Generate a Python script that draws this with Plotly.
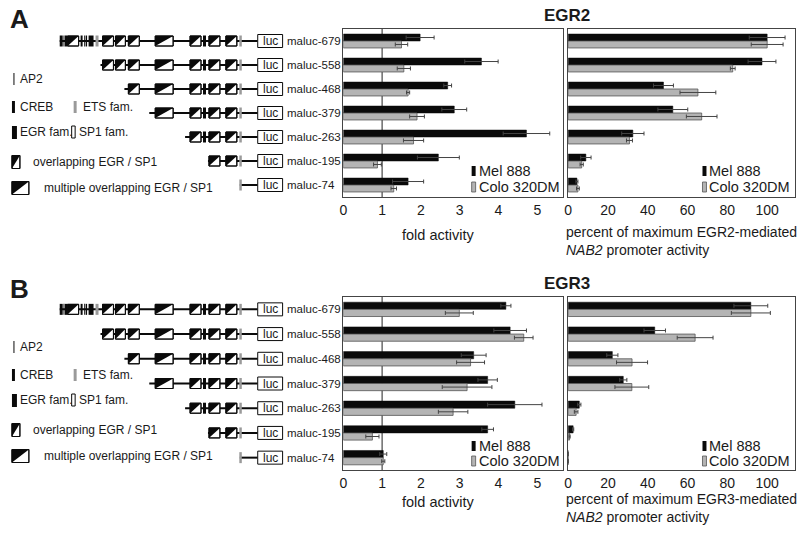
import plotly.graph_objects as go

W, H = 800, 535

constructs = ["maluc-679", "maluc-558", "maluc-468", "maluc-379", "maluc-263", "maluc-195", "maluc-74"]
series_names = ["Mel 888", "Colo 320DM"]

# Panel A (EGR2)
a_fold_mel = [1.98, 3.56, 2.69, 2.86, 4.72, 2.45, 1.67]
a_fold_mel_err = [0.36, 0.43, 0.10, 0.32, 0.60, 0.54, 0.40]
a_fold_colo = [1.50, 1.56, 1.67, 1.90, 1.81, 0.88, 1.30]
a_fold_colo_err = [0.16, 0.17, 0.04, 0.19, 0.26, 0.10, 0.07]
a_pct_mel = [100, 97.4, 47.9, 52.6, 32.5, 8.9, 4.4]
a_pct_mel_err = [9, 7, 5, 7.5, 5.6, 2.6, 0.5]
a_pct_colo = [100, 82.7, 65.2, 67.1, 30.8, 6.8, 4.9]
a_pct_colo_err = [8, 1.2, 9, 7.7, 1.5, 0.8, 0.7]

# Panel B (EGR3)
b_fold_mel = [4.19, 4.30, 3.36, 3.72, 4.42, 3.72, 1.03]
b_fold_mel_err = [0.13, 0.42, 0.32, 0.25, 0.70, 0.15, 0.09]
b_fold_colo = [2.99, 4.65, 3.28, 3.19, 2.83, 0.75, 1.03]
b_fold_colo_err = [0.36, 0.24, 0.36, 0.64, 0.38, 0.17, 0.04]
b_pct_mel = [91.8, 43.5, 22.2, 27.7, 5.6, 2.5, 0]
b_pct_mel_err = [8.5, 5.4, 2.8, 1.8, 0.8, 0.3, 0]
b_pct_colo = [91.8, 63.8, 32.1, 32.0, 4.0, 0.7, 0]
b_pct_colo_err = [9.8, 9, 7.8, 8.5, 0.9, 0.3, 0]

fold_ticks = [0, 1, 2, 3, 4, 5]
pct_ticks = [0, 20, 40, 60, 80, 100]

SANS = "Liberation Sans, Arial, sans-serif"
TXT = "#1a1a1a"
BLACK = "#0a0a0a"
GREY = "#b4b4b4"


def X(px):
    return px / W


def Y(py):
    return 1 - py / H


# pixel geometry of the plot areas
A_top, A_bot = 29, 197
B_top, B_bot = 297, 470
fold_l, fold_r = 341, 562
pct_l, pct_r = 567, 795

fig = go.Figure()

panels = [
    ("x", "y", a_fold_mel, a_fold_mel_err, a_fold_colo, a_fold_colo_err),
    ("x2", "y2", a_pct_mel, a_pct_mel_err, a_pct_colo, a_pct_colo_err),
    ("x3", "y3", b_fold_mel, b_fold_mel_err, b_fold_colo, b_fold_colo_err),
    ("x4", "y4", b_pct_mel, b_pct_mel_err, b_pct_colo, b_pct_colo_err),
]
for xa, ya, m, me, c, ce in panels:
    fig.add_trace(go.Bar(
        x=m, y=constructs, orientation="h", name=series_names[0], xaxis=xa, yaxis=ya,
        marker=dict(color=BLACK, line=dict(color=BLACK, width=0.5)),
        error_x=dict(type="data", array=me, color="#444", thickness=1, width=2),
        showlegend=False))
    fig.add_trace(go.Bar(
        x=c, y=constructs, orientation="h", name=series_names[1], xaxis=xa, yaxis=ya,
        marker=dict(color=GREY, line=dict(color="#555", width=0.8)),
        error_x=dict(type="data", array=ce, color="#444", thickness=1, width=2),
        showlegend=False))

axis_common = dict(showline=True, mirror=True, linecolor="#444", linewidth=1,
                   showgrid=False, zeroline=False, ticks="",
                   tickfont=dict(family=SANS, size=14, color=TXT))
yaxis_common = dict(showline=True, mirror=True, linecolor="#444", linewidth=1,
                    showgrid=False, zeroline=False, ticks="", showticklabels=False,
                    type="category", categoryorder="array", categoryarray=constructs,
                    autorange="reversed")

fold_range = [0, (fold_r - fold_l) / 39.0]
pct_range = [0, (pct_r - pct_l) / 2.0]

fig.update_layout(
    width=W, height=H, margin=dict(l=0, r=0, t=0, b=0),
    paper_bgcolor="white", plot_bgcolor="white",
    barmode="group", bargap=0.42, bargroupgap=0.0,
    xaxis=dict(domain=[X(fold_l), X(fold_r)], range=fold_range, tickvals=fold_ticks, anchor="y", **axis_common),
    yaxis=dict(domain=[Y(A_bot), Y(A_top)], anchor="x", **yaxis_common),
    xaxis2=dict(domain=[X(pct_l), X(pct_r)], range=pct_range, tickvals=pct_ticks, anchor="y2", **axis_common),
    yaxis2=dict(domain=[Y(A_bot), Y(A_top)], anchor="x2", **yaxis_common),
    xaxis3=dict(domain=[X(fold_l), X(fold_r)], range=fold_range, tickvals=fold_ticks, anchor="y3", **axis_common),
    yaxis3=dict(domain=[Y(B_bot), Y(B_top)], anchor="x3", **yaxis_common),
    xaxis4=dict(domain=[X(pct_l), X(pct_r)], range=pct_range, tickvals=pct_ticks, anchor="y4", **axis_common),
    yaxis4=dict(domain=[Y(B_bot), Y(B_top)], anchor="x4", **yaxis_common),
)

shapes = []
ann = []

# reference line at fold activity = 1
for xa, ya in [("x", "y"), ("x3", "y3")]:
    shapes.append(dict(type="line", xref=xa, yref=ya + " domain", x0=1, x1=1, y0=0, y1=1,
                       line=dict(color="#222", width=1), layer="below"))


def prect(x0, x1, y0, y1, fill, lc=None, lw=0):
    shapes.append(dict(type="rect", xref="paper", yref="paper",
                       x0=X(x0), x1=X(x1), y0=Y(y1), y1=Y(y0),
                       fillcolor=fill, line=dict(color=lc or fill, width=lw), layer="above"))


def ppath(pts, fill):
    d = "M " + " L ".join(f"{X(a):.5f},{Y(b):.5f}" for a, b in pts) + " Z"
    shapes.append(dict(type="path", xref="paper", yref="paper", path=d,
                       fillcolor=fill, line=dict(color=fill, width=0), layer="above"))


def pline(x0, x1, y, w=2):
    shapes.append(dict(type="line", xref="paper", yref="paper", x0=X(x0), x1=X(x1),
                       y0=Y(y), y1=Y(y), line=dict(color=BLACK, width=w), layer="above"))


def text(x, y, s, size=14, anchor="left", font=SANS, color=TXT, bold=False, shift=None):
    if shift is None:
        shift = -3 if anchor == "left" else 0
    ann.append(dict(x=X(x), y=Y(y), xref="paper", yref="paper", xshift=shift,
                    text=(f"<b>{s}</b>" if bold else s), showarrow=False,
                    xanchor=anchor, yanchor="middle", font=dict(family=font, size=size, color=color)))


def ov_box(x0, x1, yc, h):
    y0, y1 = yc - h / 2, yc + h / 2
    prect(x0, x1, y0, y1, "white", BLACK, 1)
    ppath([(x0, y0), (x1, y0), (x0, y1)], BLACK)
    prect(x0, x1, y0, y1, "rgba(0,0,0,0)", BLACK, 1)


# promoter element template along the full-length construct (pixel x positions)
template = [
    ("egr", 56, 59), ("ap2", 59.8, 60.6), ("egr", 61, 64), ("ov", 64, 75),
    ("creb", 77, 79), ("ap2", 80.5, 81.3), ("creb", 82, 83.5), ("egr", 85, 90),
    ("ets", 92, 95), ("ov", 99, 110), ("ov", 112, 122), ("ov", 125, 136),
    ("mult", 152, 170), ("ov", 187, 198), ("egr", 200, 203), ("ov", 206, 217),
    ("ov", 223, 234), ("ets", 236.5, 239),
]
row_start = [56, 97, 121, 146, 182, 205, 237]
luc_l, luc_r = 255, 280

for top, bot, dy in [(A_top, A_bot, 0), (B_top, B_bot, 268)]:
    rowh = (bot - top) / len(constructs)
    for i, name in enumerate(constructs):
        yc = top + (i + 0.5) * rowh
        s = row_start[i]
        pline(s, luc_l, yc, 2)
        for kind, x0, x1 in template:
            if x0 < s - 0.5:
                continue
            if kind in ("egr", "creb", "ap2"):
                prect(x0, x1, yc - 5.5, yc + 5.5, BLACK)
            elif kind == "ets":
                prect(x0, x1, yc - 5.5, yc + 5.5, "#9a9a9a")
            else:
                ov_box(x0, x1, yc, 10)
        prect(luc_l, luc_r, yc - 6.5, yc + 6.5, "white", BLACK, 1)
        text((luc_l + luc_r) / 2, yc, "luc", size=12, anchor="center")
        text(285, yc, name, size=11.5)

    # key
    prect(9.5, 10.5, 73 + dy, 85 + dy, BLACK)
    text(15, 79 + dy, "AP2", size=12, shift=-1)
    prect(8, 11, 101 + dy, 113 + dy, BLACK)
    text(15, 107 + dy, "CREB", size=12, shift=-1)
    prect(70, 73, 101 + dy, 113 + dy, "#9a9a9a")
    text(78, 107 + dy, "ETS fam.", size=12, shift=-1)
    prect(8, 13, 126 + dy, 139 + dy, BLACK)
    text(15, 132 + dy, "EGR fam.", size=12, shift=-1)
    prect(68, 71.5, 126 + dy, 138 + dy, "white", BLACK, 1)
    text(74, 132 + dy, "SP1 fam.", size=12, shift=-1)
    ov_box(8, 16, 162 + dy, 13)
    text(28, 162 + dy, "overlapping EGR / SP1", size=12, shift=-1)
    ov_box(8, 25, 188 + dy, 13)
    text(39, 188 + dy, "multiple overlapping EGR / SP1", size=12, shift=-1)

    # panel legends (inside each plot)
    for mx in (470, 702):
        ly = [171 + dy, 187 + dy] if dy == 0 else [446, 461]
        prect(mx, mx + 4, ly[0] - 5, ly[0] + 5, BLACK)
        text(mx + 8, ly[0], series_names[0], size=14.5)
        prect(mx, mx + 4, ly[1] - 5, ly[1] + 5, GREY, "#555", 0.8)
        text(mx + 8, ly[1], series_names[1], size=14.5)

# panel letters and titles
text(16, 19, "A", size=26, anchor="center", bold=True)
text(16, 289, "B", size=26, anchor="center", bold=True)
text(566, 15, "EGR2", size=17, anchor="center", bold=True)
text(566, 283, "EGR3", size=17, anchor="center", bold=True)

# axis titles
for dy, gene in [(0, "EGR2"), (267, "EGR3")]:
    text(436, 235 + dy, "fold activity", size=14.5, anchor="center")
    text(566, 232 + dy, f"percent of maximum {gene}-mediated", size=14)
    text(566, 250 + dy, "<i>NAB2</i> promoter activity", size=14)

fig.update_layout(shapes=shapes, annotations=ann)
fig.write_html("out.html", config={"displayModeBar": False},
               post_script="document.body.style.margin='0';document.body.style.padding='0';")
